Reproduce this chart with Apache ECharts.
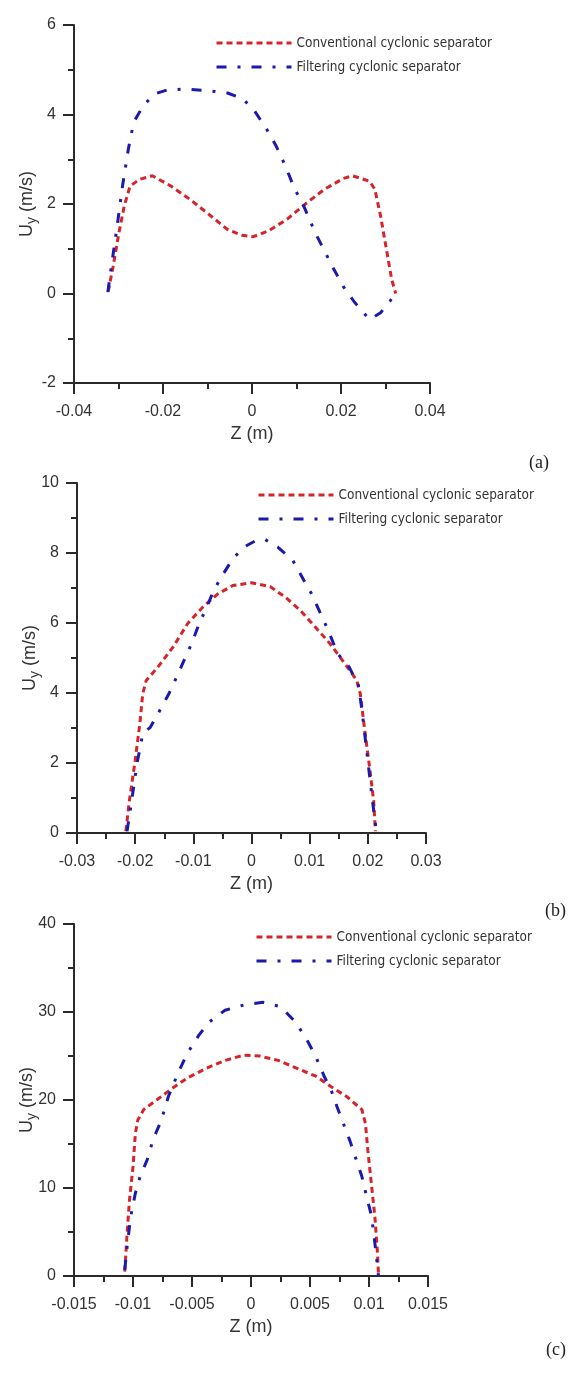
<!DOCTYPE html>
<html>
<head>
<meta charset="utf-8">
<script src="https://cdn.jsdelivr.net/npm/echarts@6/dist/echarts.min.js"></script>
<style>
html,body{margin:0;padding:0;background:#fff;}
#chart{width:585px;height:1374px;}
</style>
</head>
<body>
<div id="chart"></div>
<script>
// ---- Data ----
const seriesNames = ['Conventional cyclonic separator', 'Filtering cyclonic separator'];
const panelLabels = ['(a)', '(b)', '(c)'];

// Panel (a)
const aConvZ = [-0.0323,-0.0312,-0.0299,-0.0287,-0.0274,-0.0253,-0.0224,-0.0182,-0.0139,-0.0097,-0.0055,-0.0022,0.0003,0.0037,0.0079,0.0121,0.0163,0.0205,0.0226,0.0264,0.0276,0.0289,0.0302,0.0314,0.0323];
const aConvU = [0.05,0.61,1.36,1.96,2.40,2.55,2.63,2.40,2.10,1.77,1.43,1.30,1.27,1.40,1.66,2.01,2.33,2.57,2.63,2.51,2.33,1.73,0.99,0.31,0.0];
const aFiltZ = [-0.0324,-0.0316,-0.0303,-0.0291,-0.0278,-0.0266,-0.0245,-0.0219,-0.019,-0.0148,-0.0097,-0.0055,-0.0022,0.0003,0.0033,0.0054,0.0075,0.0096,0.0113,0.0142,0.0184,0.0205,0.023,0.0264,0.0289,0.031,0.0323];
const aFiltU = [0.03,0.61,1.51,2.40,3.22,3.82,4.19,4.46,4.55,4.57,4.53,4.48,4.36,4.12,3.67,3.30,2.85,2.33,2.03,1.36,0.54,0.16,-0.19,-0.58,-0.43,-0.17,0];

// Panel (b)
const bConvZ = [-0.0216,-0.021,-0.02,-0.0192,-0.0187,-0.0181,-0.0161,-0.0135,-0.011,-0.0084,-0.0058,-0.0032,0.0,0.0032,0.0058,0.0084,0.011,0.0135,0.0161,0.0181,0.0187,0.0194,0.0203,0.021,0.0213];
const bConvU = [0.05,0.92,2.07,3.12,3.98,4.36,4.74,5.31,5.98,6.45,6.83,7.07,7.15,7.04,6.74,6.36,5.88,5.41,4.83,4.36,3.98,3.02,1.88,0.92,0.05];
const bFiltZ = [-0.0214,-0.0206,-0.0197,-0.0187,-0.0174,-0.0161,-0.0142,-0.0129,-0.0116,-0.0103,-0.009,-0.0077,-0.0065,-0.0052,-0.0032,-0.0013,0.0006,0.0023,0.0045,0.0071,0.009,0.0103,0.0119,0.0132,0.0148,0.0168,0.0184,0.019,0.02,0.0208,0.0215];
const bFiltU = [0.05,0.92,1.97,2.83,3.02,3.40,3.98,4.45,4.93,5.41,5.98,6.45,6.93,7.31,7.84,8.17,8.34,8.39,8.17,7.79,7.22,6.84,6.26,5.79,5.12,4.74,4.21,3.5,2.07,0.92,0];

// Panel (c)
const cConvZ = [-0.0107,-0.0105,-0.0103,-0.01,-0.0098,-0.0096,-0.0091,-0.008,-0.0067,-0.0054,-0.0038,-0.0022,-0.0006,0.0007,0.0023,0.0039,0.0055,0.0068,0.0081,0.0094,0.0097,0.0099,0.0102,0.0105,0.0107,0.0108];
const cConvU = [0.5,4.85,8.6,12.4,16.2,17.7,18.9,20.0,21.3,22.5,23.6,24.5,25.1,25.0,24.5,23.6,22.7,21.5,20.4,18.9,17.3,14.3,10.5,6.7,3.0,0.3];
const cFiltZ = [-0.0107,-0.0105,-0.0102,-0.0098,-0.0094,-0.0088,-0.0083,-0.0076,-0.007,-0.0062,-0.0054,-0.0044,-0.0035,-0.0022,-0.0006,0.001,0.0025,0.0036,0.0046,0.0055,0.0062,0.0068,0.0073,0.0084,0.0094,0.0098,0.0102,0.0104,0.0106,0.0108];
const cFiltU = [0.7,3.3,6.7,9.4,11.3,13.2,15.5,17.7,20.4,23.0,25.3,27.4,28.9,30.2,30.8,31.1,30.6,29.1,27.2,24.9,22.7,21.1,19.2,15.3,11.3,9.0,6.9,4.8,2.6,0];

// Axis ranges / ticks
const xMin = [-0.04, -0.03, -0.015];
const xMax = [0.04, 0.03, 0.015];
const xStep = [0.02, 0.01, 0.005];
const yMin = [-2, 0, 0];
const yMax = [6, 10, 40];
const yStep = [2, 2, 10];

// ---- Layout / styles ----
const grids = [
  {left: 74, top: 25, width: 356, height: 358},
  {left: 77, top: 483, width: 349, height: 350},
  {left: 74, top: 924, width: 354, height: 352}
];
const legendPos = [
  {left: 215, top: 36},
  {left: 257, top: 488},
  {left: 255, top: 930}
];
const labelPos = [
  {left: 529, top: 454},
  {left: 545, top: 902},
  {left: 546, top: 1341}
];
const RED = '#d6242a';
const BLUE = '#1a1aae';
const AXIS = '#2a2a2a';
const TXT = '#333';
const SANS = "'Liberation Sans', Arial, sans-serif";
const NARROW = "'Liberation Sans Narrow', 'Arial Narrow', 'DejaVu Sans Condensed', sans-serif";

function zip(z, u) { return z.map((v, i) => [v, u[i]]); }
const panels = [
  [zip(aConvZ, aConvU), zip(aFiltZ, aFiltU)],
  [zip(bConvZ, bConvU), zip(bFiltZ, bFiltU)],
  [zip(cConvZ, cConvU), zip(cFiltZ, cFiltU)]
];

const fmt = v => String(+(+v).toFixed(6));

const option = {
  backgroundColor: '#fff',
  animation: false,
  grid: grids,
  title: panelLabels.map((t, i) => ({
    text: t, left: labelPos[i].left, top: labelPos[i].top, padding: 0,
    textStyle: {fontFamily: "'Liberation Serif', 'Times New Roman', serif", fontSize: 18, fontWeight: 'normal', color: '#222'}
  })),
  legend: legendPos.map((p, i) => ({
    orient: 'vertical', left: p.left, top: p.top, padding: 0,
    itemWidth: 75, itemHeight: 14, itemGap: 10, selectedMode: false,
    data: seriesNames,
    itemStyle: {opacity: 0},
    lineStyle: {width: 3},
    textStyle: {fontFamily: NARROW, fontSize: 13.5, color: TXT, lineHeight: 14}
  })),
  xAxis: grids.map((g, i) => ({
    type: 'value', gridIndex: i, min: xMin[i], max: xMax[i], interval: xStep[i],
    name: 'Z (m)', nameLocation: 'middle', nameGap: 42,
    nameTextStyle: {fontFamily: SANS, fontSize: 18, color: TXT},
    axisLine: {show: true, onZero: false, lineStyle: {color: AXIS, width: 2}},
    axisTick: {show: true, inside: false, length: 11, lineStyle: {color: AXIS, width: 2}},
    minorTick: {show: true, splitNumber: 2, length: 6, lineStyle: {color: AXIS, width: 2}},
    axisLabel: {fontFamily: SANS, fontSize: 16, color: TXT, margin: 21, formatter: fmt, showMinLabel: true, showMaxLabel: true},
    splitLine: {show: false}
  })),
  yAxis: grids.map((g, i) => ({
    type: 'value', gridIndex: i, min: yMin[i], max: yMax[i], interval: yStep[i],
    name: '{a|U}{b|y}{a| (m/s)}', nameLocation: 'middle', nameGap: 35, nameRotate: 90,
    nameMoveOverlap: false,
    nameTextStyle: {
      rich: {
        a: {fontFamily: SANS, fontSize: 18, color: TXT, lineHeight: 24},
        b: {fontFamily: SANS, fontSize: 14, color: TXT, lineHeight: 24, verticalAlign: 'bottom', padding: [8, 0, 0, 0]}
      }
    },
    axisLine: {show: true, onZero: false, lineStyle: {color: AXIS, width: 2}},
    axisTick: {show: true, inside: false, length: 11, lineStyle: {color: AXIS, width: 2}},
    minorTick: {show: true, splitNumber: 2, length: 6, lineStyle: {color: AXIS, width: 2}},
    axisLabel: {fontFamily: SANS, fontSize: 16, color: TXT, margin: 18, formatter: fmt},
    splitLine: {show: false}
  })),
  series: []
};

panels.forEach((p, i) => {
  option.series.push({
    name: seriesNames[0], type: 'line', xAxisIndex: i, yAxisIndex: i,
    data: p[0], symbol: 'none', showSymbol: false, smooth: false,
    lineStyle: {color: RED, width: 3, type: [6, 4]}, itemStyle: {color: RED}, z: 2
  });
  option.series.push({
    name: seriesNames[1], type: 'line', xAxisIndex: i, yAxisIndex: i,
    data: p[1], symbol: 'none', showSymbol: false, smooth: false,
    lineStyle: {color: BLUE, width: 3, type: [10, 11, 3, 11]}, itemStyle: {color: BLUE}, z: 3
  });
});

const chart = echarts.init(document.getElementById('chart'), null, {renderer: 'canvas'});
chart.setOption(option);
</script>
</body>
</html>
